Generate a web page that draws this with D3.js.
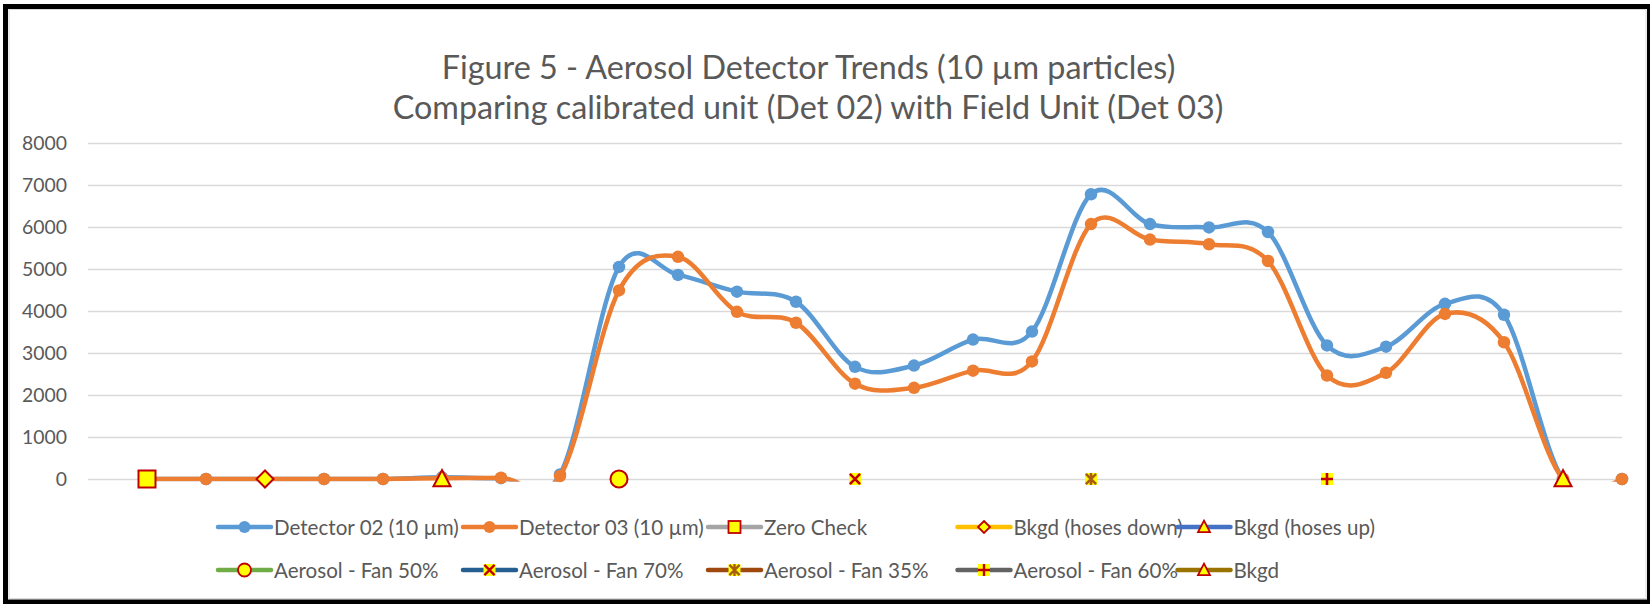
<!DOCTYPE html>
<html><head><meta charset="utf-8">
<script src="https://cdn.jsdelivr.net/npm/d3@7"></script>
<style>
html,body{margin:0;padding:0;background:#fff;}
svg{display:block;}
text{font-family:Lato,"Open Sans",sans-serif;fill:#595959;}
</style>
</head><body>
<svg id="c" width="1650" height="604"></svg>
<script>
// ---------- DATA ----------
const categories = [0,1,2,3,4,5,6,7,8,9,10,11,12,13,14,15,16,17,18,19,20,21,22,23,24,25,26];
const det02 = [null,0,0,0,0,0,40,20,110,5050,4860,4460,4220,2670,2700,3320,3510,6780,6070,5990,5880,3180,3150,4170,3910,0,0];
const det03 = [null,0,0,0,0,0,20,30,70,4490,5290,3980,3720,2270,2170,2580,2800,6070,5700,5590,5190,2465,2530,3930,3255,0,0];
const yTicks = [0,1000,2000,3000,4000,5000,6000,7000,8000];
// single-point marker series: [category index, value]
const zeroCheck = [[1,0]];
const bkgdHosesDown = [[3,0]];
const bkgdHosesUp = [[6,0]];
const fan50 = [[9,0]];
const fan70 = [[13,0]];
const fan35 = [[17,0]];
const fan60 = [[21,0]];
const bkgd = [[25,0]];
const titleLines = ["Figure 5 - Aerosol Detector Trends (10 µm particles)",
                    "Comparing calibrated unit (Det 02) with Field Unit (Det 03)"];
const seriesNames = ["Detector 02 (10 µm)","Detector 03 (10 µm)","Zero Check","Bkgd (hoses down)","Bkgd (hoses up)",
                     "Aerosol - Fan 50%","Aerosol - Fan 70%","Aerosol - Fan 35%","Aerosol - Fan 60%","Bkgd"];

// ---------- STYLE ----------
const RED = "#C00000", YEL = "#FFFF00";
const markerSeries = [
  {name:seriesNames[2], data:zeroCheck,     color:"#A5A5A5", type:"square",   stroke:RED},
  {name:seriesNames[3], data:bkgdHosesDown, color:"#FFC000", type:"diamond",  stroke:RED},
  {name:seriesNames[4], data:bkgdHosesUp,   color:"#4472C4", type:"triangle", stroke:RED},
  {name:seriesNames[5], data:fan50,         color:"#70AD47", type:"circle",   stroke:RED},
  {name:seriesNames[6], data:fan70,         color:"#255E91", type:"x",        stroke:RED},
  {name:seriesNames[7], data:fan35,         color:"#9E480E", type:"star",     stroke:"#A85D12"},
  {name:seriesNames[8], data:fan60,         color:"#636363", type:"plus",     stroke:RED},
  {name:seriesNames[9], data:bkgd,          color:"#997300", type:"triangle", stroke:RED}
];
const detSeries = [
  {name:seriesNames[0], data:det02, color:"#5B9BD5"},
  {name:seriesNames[1], data:det03, color:"#ED7D31"}
];

const svg = d3.select("#c");
const W = 1650, H = 604;
const plot = {left:88, right:1622, top:143, bottom:479};

const x = d3.scaleLinear().domain([categories[0], categories[categories.length-1]]).range([plot.left, plot.right]);
const y = d3.scaleLinear().domain([0, 8000]).range([plot.bottom, plot.top]);

// background + border
svg.append("rect").attr("x",0).attr("y",0).attr("width",W).attr("height",H).attr("fill","#fff");
svg.append("rect").attr("x",9).attr("y",9.5).attr("width",1637).attr("height",589).attr("fill","none")
   .attr("stroke","#D9D9D9").attr("stroke-width",1);
svg.append("rect").attr("x",5.5).attr("y",6.5).attr("width",1644).attr("height",595.5)
   .attr("fill","none").attr("stroke","#000").attr("stroke-width",5);

function fitSize(sel, base, target){
  sel.style("font-size", base+"px");
  const w = sel.node().getComputedTextLength();
  const s = base*target/w;
  sel.style("font-size", s+"px");
  return s;
}

// title
const t2 = svg.append("text").attr("x",808).attr("y",106).attr("text-anchor","middle")
  .attr("dominant-baseline","central").text(titleLines[1]);
const ts = fitSize(t2, 28, 831);
svg.append("text").attr("x",808.5).attr("y",66).attr("text-anchor","middle")
  .attr("dominant-baseline","central").style("font-size",ts+"px").text(titleLines[0]);

// y axis + gridlines
const yAxis = d3.axisLeft(y).tickValues(yTicks).tickSize(-(plot.right-plot.left)).tickPadding(21).tickFormat(d3.format("d"));
const ga = svg.append("g").attr("transform",`translate(${plot.left},0)`).call(yAxis);
ga.select(".domain").remove();
ga.selectAll(".tick line").attr("stroke","#D9D9D9").attr("stroke-width",1.5);
ga.selectAll(".tick text").attr("fill","#595959").style("font-family","Lato,'Open Sans',sans-serif");
const lbl = ga.selectAll(".tick text").filter(d=>d===8000);
const ls = fitSize(lbl, 20, 45);
ga.selectAll(".tick text").style("font-size", ls+"px");

// clip for lines
svg.append("clipPath").attr("id","pc").append("rect")
  .attr("x",plot.left-20).attr("y",0).attr("width",plot.right-plot.left+40).attr("height",plot.bottom+2.6);

const line = d3.line().defined(d=>d[1]!==null).x(d=>x(d[0])).y(d=>y(d[1])).curve(d3.curveCardinal.tension(0));

function drawMarker(g, type, cx, cy, s, fill, stroke, sw){
  const h = s/2;
  if(type==="dot"){
    g.append("circle").attr("cx",cx).attr("cy",cy).attr("r",h).attr("fill",fill);
  } else if(type==="circle"){
    g.append("circle").attr("cx",cx).attr("cy",cy).attr("r",h).attr("fill",fill).attr("stroke",stroke).attr("stroke-width",sw);
  } else if(type==="square"){
    g.append("rect").attr("x",cx-h).attr("y",cy-h).attr("width",s).attr("height",s).attr("fill",fill).attr("stroke",stroke).attr("stroke-width",sw);
  } else if(type==="diamond"){
    g.append("path").attr("d",`M${cx},${cy-h}L${cx+h},${cy}L${cx},${cy+h}L${cx-h},${cy}Z`).attr("fill",fill).attr("stroke",stroke).attr("stroke-width",sw);
  } else if(type==="triangle"){
    g.append("path").attr("d",`M${cx},${cy-h*1.05}L${cx+h},${cy+h*0.85}L${cx-h},${cy+h*0.85}Z`).attr("fill",fill).attr("stroke",stroke).attr("stroke-width",sw).attr("stroke-linejoin","miter");
  } else {
    g.append("rect").attr("x",cx-h).attr("y",cy-h).attr("width",s).attr("height",s).attr("fill",fill);
    const k = h*0.85;
    let d = "";
    if(type==="x"||type==="star") d += `M${cx-k},${cy-k}L${cx+k},${cy+k}M${cx+k},${cy-k}L${cx-k},${cy+k}`;
    if(type==="star") d += `M${cx},${cy-h}L${cx},${cy+h}`;
    if(type==="plus") d += `M${cx-h},${cy}L${cx+h},${cy}M${cx},${cy-h}L${cx},${cy+h}`;
    g.append("path").attr("d",d).attr("stroke",stroke).attr("stroke-width",sw+0.6).attr("fill","none");
  }
}

// detector series
detSeries.forEach(s=>{
  const pts = categories.map((c,i)=>[c, s.data[i]]);
  const g = svg.append("g");
  g.append("path").attr("clip-path","url(#pc)").attr("d",line(pts)).attr("fill","none")
   .attr("stroke",s.color).attr("stroke-width",4.5).attr("stroke-linecap","round");
  pts.filter(p=>p[1]!==null).forEach(p=>drawMarker(g,"dot",x(p[0]),y(p[1]),12.5,s.color));
});

// marker-only series
markerSeries.forEach(s=>{
  const g = svg.append("g");
  s.data.forEach(p=>{
    const sz = (s.type==="x"||s.type==="star"||s.type==="plus") ? 12 : 17;
    drawMarker(g, s.type, x(p[0]), y(p[1]), sz, YEL, s.stroke, 2);
  });
});

// legend
const legCols = [218, 463, 708, 957.5, 1177.5];
const legRows = [527, 570];
const legendItems = [
  {name:detSeries[0].name, color:detSeries[0].color, type:"dot", stroke:null},
  {name:detSeries[1].name, color:detSeries[1].color, type:"dot", stroke:null},
  ...markerSeries
];
const lg = svg.append("g");
let legFont = null;
legendItems.forEach((it,i)=>{
  const cx = legCols[i%5], cy = legRows[Math.floor(i/5)];
  lg.append("line").attr("x1",cx).attr("x2",cx+53).attr("y1",cy).attr("y2",cy)
    .attr("stroke",it.color).attr("stroke-width",4.5).attr("stroke-linecap","round");
  if(it.type==="dot") drawMarker(lg,"dot",cx+26.5,cy,12,it.color);
  else drawMarker(lg,it.type,cx+26.5,cy,it.type==="circle"?13:12,YEL,it.stroke,1.8);
  const t = lg.append("text").attr("x",cx+56).attr("y",cy).attr("dominant-baseline","central").text(it.name);
  if(i===0) legFont = fitSize(t, 20, 185);
  else t.style("font-size", legFont+"px");
});
</script>
</body></html>
